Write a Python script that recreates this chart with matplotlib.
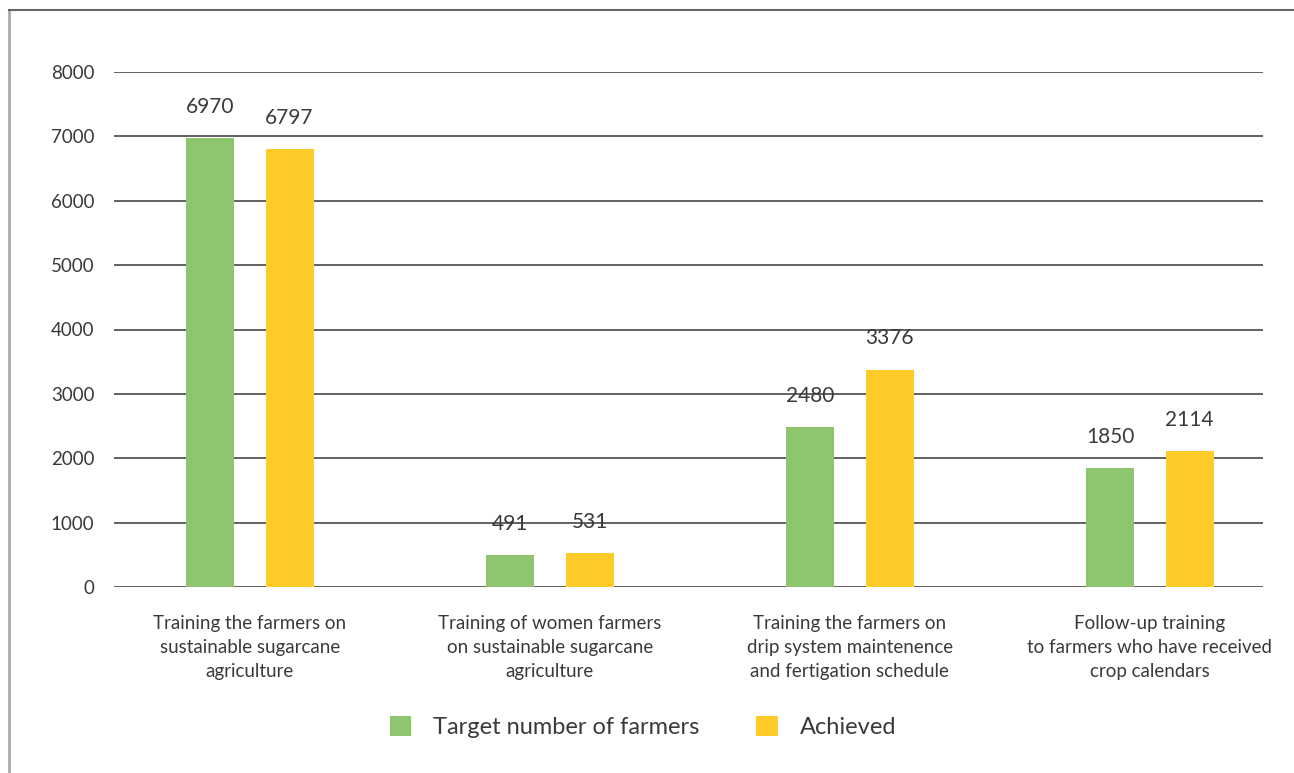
import matplotlib.pyplot as plt
from matplotlib.patches import Patch
from matplotlib.lines import Line2D
import numpy as np

# Data
categories = [
    "Training the farmers on\nsustainable sugarcane\nagriculture",
    "Training of women farmers\non sustainable sugarcane\nagriculture",
    "Training the farmers on\ndrip system maintenence\nand fertigation schedule",
    "Follow-up training\nto farmers who have received\ncrop calendars",
]
target = [6970, 491, 2480, 1850]
achieved = [6797, 531, 3376, 2114]
series_names = ["Target number of farmers", "Achieved"]
y_ticks = [0, 1000, 2000, 3000, 4000, 5000, 6000, 7000, 8000]

GREEN = "#8DC66F"
YELLOW = "#FFCB29"
TEXT = "#3a3a3a"
plt.rcParams["font.family"] = ["Lato", "DejaVu Sans"]

fig = plt.figure(figsize=(12.94, 7.73), dpi=100)
ax = fig.add_axes([114 / 1294, 1 - 587 / 773, (1263 - 114) / 1294, (587 - 72) / 773])

x = np.arange(len(categories))
w = 0.16
off = 0.132
ax.bar(x - off, target, width=w, color=GREEN, zorder=3)
ax.bar(x + off, achieved, width=w, color=YELLOW, zorder=3)

# value labels above the bars
for xi, v in zip(x - off, target):
    ax.text(xi, v + 330, str(v), ha="center", va="bottom", fontsize=15, color=TEXT)
for xi, v in zip(x + off, achieved):
    ax.text(xi, v + 330, str(v), ha="center", va="bottom", fontsize=15, color=TEXT)

ax.set_xlim(-0.453, 3.377)
ax.set_ylim(0, 8000)
ax.set_yticks(y_ticks)
ax.set_yticklabels([str(t) for t in y_ticks], fontsize=13.5, color=TEXT)
ax.grid(axis="y", color="#555555", linewidth=1.3, zorder=0)
ax.set_xticks(x)
ax.set_xticklabels(categories, fontsize=13.5, color=TEXT, linespacing=1.5)
ax.tick_params(axis="both", length=0)
ax.tick_params(axis="y", pad=14)
ax.tick_params(axis="x", pad=20)
for s in ax.spines.values():
    s.set_visible(False)

# frame lines around the figure
fig.add_artist(Line2D([9 / 1294, 9 / 1294], [0, 1 - 10 / 773], color="#aaaaaa", linewidth=2))
fig.add_artist(Line2D([9 / 1294, 1], [1 - 10 / 773, 1 - 10 / 773], color="#666666", linewidth=1.5))

handles = [Patch(facecolor=GREEN), Patch(facecolor=YELLOW)]
fig.legend(handles, series_names, loc="center", bbox_to_anchor=(643 / 1294, 1 - 727 / 773),
           ncol=2, frameon=False, handlelength=0.9, handleheight=0.9,
           handletextpad=0.95, columnspacing=2.4, labelcolor=TEXT,
           prop={"size": 17})

fig.savefig("out.png", dpi=100)
